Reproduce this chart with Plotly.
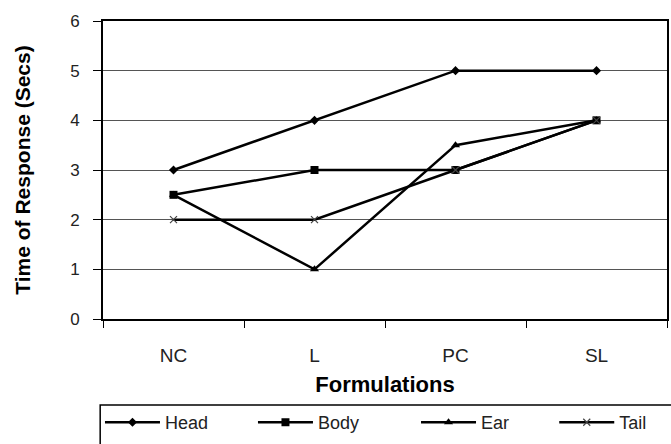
import plotly.graph_objs as go

# Reaction time per formulation
FORMULATIONS = ["NC", "L", "PC", "SL"]
HEAD = [3, 4, 5, 5]
BODY = [2.5, 3, 3, 4]
EAR = [2.5, 1, 3.5, 4]
TAIL = [2, 2, 3, 4]

SERIES = [
    ("Head", HEAD, dict(symbol="diamond", size=7, color="black")),
    ("Body", BODY, dict(symbol="square", size=8, color="black")),
    ("Ear", EAR, dict(symbol="triangle-up", size=8, color="black")),
    ("Tail", TAIL, dict(symbol="x-thin", size=7, color="#444444",
                        line=dict(color="#444444", width=1.2))),
]

# each series gets its own legend (container coords) so entries sit where the original has them
LEGEND_X = [0.149, 0.377, 0.620, 0.826]
LEGEND_Y = 0.09

FONT = "Liberation Sans, Arial, sans-serif"

fig = go.Figure()

for i, (name, values, marker) in enumerate(SERIES):
    fig.add_trace(
        go.Scatter(
            x=FORMULATIONS,
            y=values,
            mode="lines+markers",
            name=name,
            line=dict(color="black", width=2.5),
            marker=marker,
            legend="legend" if i == 0 else f"legend{i + 1}",
        )
    )

legends = {}
for i, lx in enumerate(LEGEND_X):
    key = "legend" if i == 0 else f"legend{i + 1}"
    legends[key] = dict(
        orientation="h",
        xref="container",
        yref="container",
        x=lx,
        xanchor="left",
        y=LEGEND_Y,
        yanchor="top",
        bgcolor="rgba(0,0,0,0)",
        borderwidth=0,
        itemwidth=55,
        font=dict(family=FONT, size=18, color="#222222"),
    )

fig.update_layout(
    width=671,
    height=444,
    paper_bgcolor="white",
    plot_bgcolor="white",
    font=dict(family=FONT, size=14, color="black"),
    margin=dict(l=103, r=2, t=21, b=125),
    showlegend=True,
    **legends,
    xaxis=dict(
        type="category",
        range=[-0.5, len(FORMULATIONS) - 0.5],
        tickson="boundaries",
        ticks="outside",
        ticklen=7,
        tickcolor="black",
        showline=True,
        linecolor="black",
        linewidth=2,
        mirror=True,
        showgrid=False,
        ticklabelstandoff=18,
        title=dict(text="<b>Formulations</b>", font=dict(size=22), standoff=12),
        tickfont=dict(size=19, color="#222222"),
    ),
    yaxis=dict(
        range=[0, 6],
        dtick=1,
        ticks="outside",
        ticklen=8,
        tickcolor="black",
        showline=True,
        linecolor="black",
        linewidth=2,
        mirror=True,
        showgrid=True,
        gridcolor="#555555",
        gridwidth=1,
        zeroline=False,
        ticklabelstandoff=10,
        title=dict(text="<b>Time of Response (Secs)</b>", font=dict(size=21), standoff=34),
        tickfont=dict(size=17, color="#222222"),
    ),
    shapes=[
        # frame around the legend row, running off the bottom and right edges
        dict(type="rect", xref="paper", yref="paper",
             x0=-0.005, x1=1.02, y0=-0.289, y1=-0.5,
             line=dict(color="black", width=1.5), fillcolor="rgba(0,0,0,0)"),
    ],
)

fig.write_html(
    "out.html",
    config={"displayModeBar": False},
    post_script="document.body.style.margin = '0';",
)
